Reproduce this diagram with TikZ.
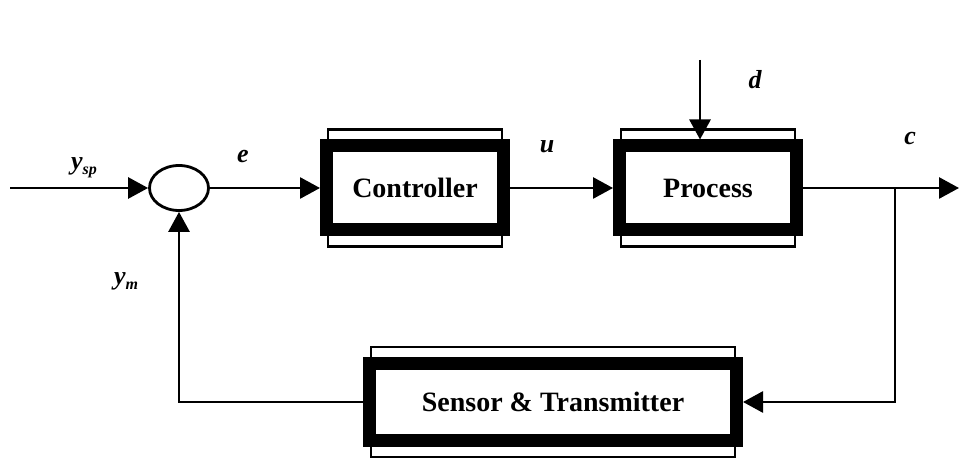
\documentclass[tikz,border=0pt]{standalone}
\usepackage{fontspec}
\setmainfont{Liberation Serif}
\usetikzlibrary{arrows.meta,shapes.geometric}

\tikzset{
  block/.style={draw, rectangle, line width=6.5pt, fill=white, inner sep=0pt,
    minimum width=88.5pt, minimum height=42pt,
    font=\fontsize{14}{16}\selectfont\bfseries},
  frame/.style={line width=1.2pt},
  sig/.style={line width=1.4pt, -{Triangle[length=10pt,width=10.5pt]}},
  lbl/.style={inner sep=0pt, font=\fontsize{13}{15}\selectfont\bfseries\itshape},
}
\newcommand{\lowidx}[1]{\raisebox{-2.5pt}{\fontsize{8}{9}\selectfont #1}}

\begin{document}
\begin{tikzpicture}[x=0.5pt, y=-0.5pt]
    \useasboundingbox (0,0) rectangle (961,458);
    % blocks
    \node[draw, ellipse, line width=1.4pt, inner sep=0pt,
      minimum width=29.5pt, minimum height=22.5pt] (sum) at (179,188) {};
    \node[block] (ctrl) at (415,188) {Controller};
    \node[block] (proc) at (708,188) {Process};
    \node[block, minimum width=183.5pt, minimum height=38.5pt] (sens) at (553,402) {Sensor \& Transmitter};
    \foreach \b in {ctrl,proc,sens}
        \draw[frame] ([xshift=4pt,yshift=5pt]\b.north west) rectangle ([xshift=-4pt,yshift=-5pt]\b.south east);
    % signals
    \coordinate (ysp in) at (10,188);
    \coordinate (dist) at (700,60);
    \coordinate (br) at (895,188);
    \coordinate (c out) at (959,188);
    \draw[sig] (ysp in) -- (sum);
    \draw[sig] (sum) -- (ctrl);
    \draw[sig] (ctrl) -- (proc);
    \draw[sig] (dist) -- (dist |- proc.north);
    \draw[sig] (proc) -- (c out);
    \draw[sig] (br) |- (sens.east);
    \draw[sig] (sens.west) -| (sum.south);
    % labels
    \node[lbl] (lysp) at (84,168) {y\lowidx{sp}};
    \node[lbl] (le) at (243,157) {e};
    \node[lbl] (lu) at (547,147) {u};
    \node[lbl] (ld) at (755,80) {d};
    \node[lbl] (lc) at (910,139) {c};
    \node[lbl] (lym) at (126,281) {y\lowidx{m}};
\end{tikzpicture}
\end{document}
